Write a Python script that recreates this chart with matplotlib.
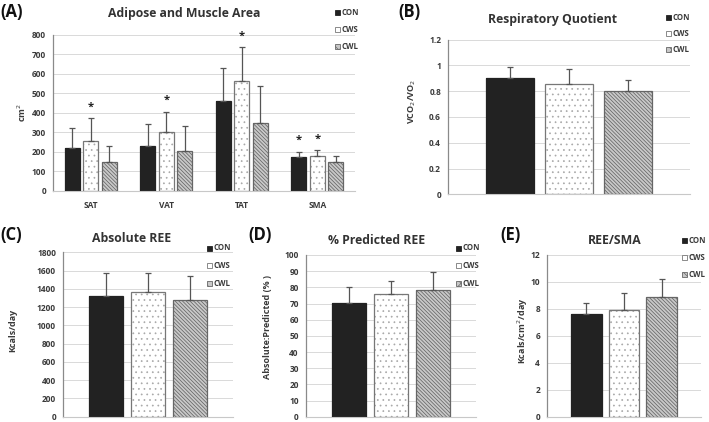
import matplotlib
matplotlib.use("Agg")
import matplotlib.pyplot as plt
import numpy as np
from matplotlib.ticker import FuncFormatter

plt.rcParams['font.family'] = ['Open Sans', 'DejaVu Sans']
plt.rcParams['hatch.linewidth'] = 0.5

# ---------------- data ----------------
groups = ['CON', 'CWS', 'CWL']

a_categories = ['SAT', 'VAT', 'TAT', 'SMA']
a_con = [222, 230, 459, 174]
a_con_err = [100, 113, 172, 27]
a_cws = [254, 304, 563, 179]
a_cws_err = [118, 102, 172, 31]
a_cwl = [150, 205, 348, 146]
a_cwl_err = [82, 129, 187, 31]
# significance stars: (category index, group index)
a_stars = [(0, 1), (1, 1), (2, 1), (3, 0), (3, 1)]

rq_means = [0.90, 0.86, 0.80]
rq_err = [0.09, 0.11, 0.09]

ree_means = [1318, 1368, 1275]
ree_err = [255, 210, 270]

pred_means = [70.5, 76.1, 78.2]
pred_err = [10.0, 8.0, 11.3]

reesma_means = [7.58, 7.88, 8.88]
reesma_err = [0.82, 1.27, 1.30]

# ---------------- styles ----------------
W, H = 709, 422
fig = plt.figure(figsize=(W / 100, H / 100), dpi=100)

styles = [
    dict(face='#222222', hatch=None, hatchcol='#222222', edge='#222222'),
    dict(face='white', hatch='...', hatchcol='#a8a8a8', edge='#777777'),
    dict(face='#c8c8c8', hatch='\\' * 9, hatchcol='#5e5e5e', edge='#666666'),
]
BAR_W = 0.2
OFFS = [-0.245, 0.0, 0.245]
TXT = '#3a3a3a'


def px_axes(l, r, t, b):
    return fig.add_axes([l / W, 1 - b / H, (r - l) / W, (b - t) / H])


def style_axes(ax, ymax, step, ylabel, ylabel_xy, title, title_xy, letter, letter_xy,
               legend_xy, legend_gap):
    ax.set_ylim(0, ymax)
    ax.set_yticks(np.arange(0, ymax + step / 2, step))
    ax.yaxis.set_major_formatter(FuncFormatter(lambda v, p: f'{round(v, 6):g}'))
    ax.grid(axis='y', color='#d9d9d9', linewidth=0.7)
    ax.set_axisbelow(True)
    for s in ['top', 'right']:
        ax.spines[s].set_visible(False)
    ax.spines['left'].set_color('#8a8a8a')
    ax.spines['bottom'].set_color('#c8c8c8')
    ax.spines['left'].set_linewidth(0.9)
    ax.spines['bottom'].set_linewidth(0.8)
    ax.tick_params(length=0, labelsize=6, labelcolor=TXT, pad=5)
    for lab in ax.get_yticklabels() + ax.get_xticklabels():
        lab.set_fontweight('bold')
    ax.set_ylabel(ylabel, fontsize=6.5, fontweight='bold', color=TXT)
    # ylabel_xy gives the visual centre of the rotated label (pixels)
    ax.yaxis.set_label_coords((ylabel_xy[0] + 4.5) / W, 1 - ylabel_xy[1] / H,
                              transform=fig.transFigure)
    fig.text(title_xy[0] / W, 1 - title_xy[1] / H, title, fontsize=8.8, fontweight='bold',
             color='#333333', ha='center', va='center')
    fig.text(letter_xy[0] / W, 1 - letter_xy[1] / H, letter, fontsize=12, fontweight='bold',
             color='#111111', ha='left', va='center')
    for i, g in enumerate(groups):
        y = legend_xy[1] + i * legend_gap
        sq = 5
        fig.patches.append(plt.Rectangle((legend_xy[0] / W, 1 - (y + sq / 2) / H), sq / W, sq / H,
                                         transform=fig.transFigure, facecolor=styles[i]['face'],
                                         hatch='xxx' if i == 2 else None,
                                         edgecolor=styles[i]['edge'], linewidth=0.6))
        fig.text((legend_xy[0] + sq + 1.5) / W, 1 - y / H, g, fontsize=5.6, fontweight='bold',
                 color=TXT, ha='left', va='center')


def draw_bars(ax, x, means, errs, gi):
    st = styles[gi]
    ax.bar(x, means, width=BAR_W, color=st['face'], hatch=st['hatch'],
           edgecolor=st['hatchcol'], linewidth=0, zorder=2)
    ax.bar(x, means, width=BAR_W, fill=False, edgecolor=st['edge'], linewidth=0.9, zorder=3)
    errs = np.asarray(errs)
    ax.errorbar(x, means, yerr=[np.zeros_like(errs), errs], fmt='none', ecolor='#555555',
                elinewidth=0.9, capsize=2.2, capthick=0.9, zorder=4)


# ---------------- panel A ----------------
axA = px_axes(53, 355, 34.7, 191)
xa = np.arange(len(a_categories))
a_means = [a_con, a_cws, a_cwl]
a_errs = [a_con_err, a_cws_err, a_cwl_err]
for gi in range(3):
    draw_bars(axA, xa + OFFS[gi], a_means[gi], a_errs[gi], gi)
for ci, gi in a_stars:
    top = a_means[gi][ci] + a_errs[gi][ci]
    axA.annotate('*', (xa[ci] + OFFS[gi], top), xytext=(0, 4), textcoords='offset points',
                 ha='center', va='bottom', fontsize=8, fontweight='bold', color='#222222')
axA.set_xlim(-0.5, len(a_categories) - 0.5)
axA.set_xticks(xa)
axA.set_xticklabels(a_categories)
style_axes(axA, 800, 100, 'cm$^2$', (23, 113), 'Adipose and Muscle Area', (184, 14), '(A)', (0, 12),
           (335, 12.3), 17)
axA.tick_params(axis='x', pad=7)


def single_panel(rect, means, errs, ymax, step, ylabel, ylabel_xy, title, title_xy, letter,
                 letter_xy, legend_xy, legend_gap):
    ax = px_axes(*rect)
    for gi in range(3):
        draw_bars(ax, [OFFS[gi]], [means[gi]], [errs[gi]], gi)
    ax.set_xlim(-0.5, 0.5)
    ax.set_xticks([])
    style_axes(ax, ymax, step, ylabel, ylabel_xy, title, title_xy, letter, letter_xy,
               legend_xy, legend_gap)
    return ax


single_panel((448, 690, 39.7, 194.3), rq_means, rq_err, 1.2, 0.2, 'VCO$_2$/VO$_2$', (413, 101),
             'Respiratory Quotient', (552, 19), '(B)', (398, 12), (666, 17), 16.3)
single_panel((63, 233, 252.3, 416.7), ree_means, ree_err, 1800, 200, 'Kcals/day', (13, 330),
             'Absolute REE', (132, 239), '(C)', (0, 235), (207, 248), 17.5)
single_panel((305.7, 476, 255, 416.7), pred_means, pred_err, 100, 10, 'Absolute:Predicted (% )',
             (267, 327), '% Predicted REE', (377, 240), '(D)', (248, 235), (456, 248), 17.5)
single_panel((547, 701, 254.7, 416.7), reesma_means, reesma_err, 12, 2, 'Kcals/cm$^2$/day',
             (525, 331), 'REE/SMA', (615, 240), '(E)', (500, 235), (682, 240.7), 17)

fig.savefig('out.png', dpi=100)
